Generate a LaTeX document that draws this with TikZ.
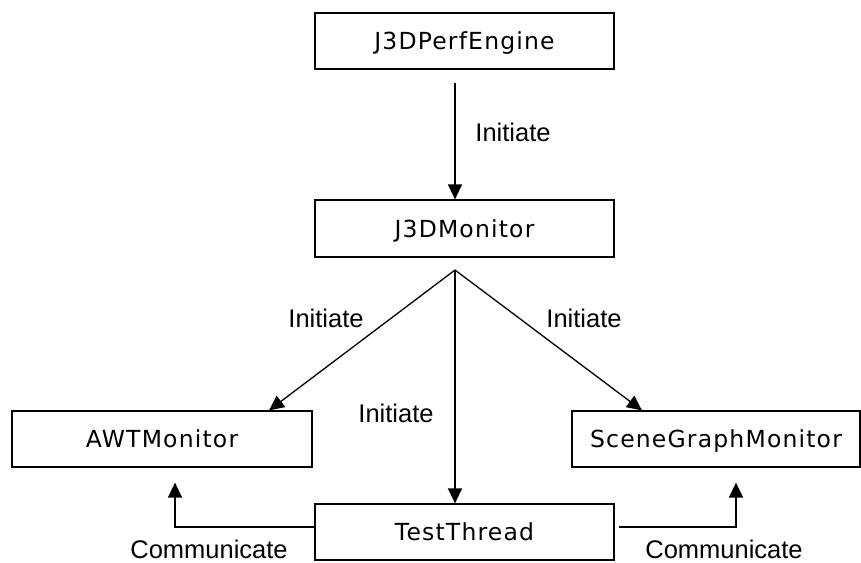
\documentclass[tikz,border=0pt]{standalone}
\usepackage{fontspec}
\setmainfont{Liberation Sans}
\newfontfamily\boxfont{DejaVu Sans}[LetterSpace=5]
\usetikzlibrary{arrows.meta}
\tikzset{
  classbox/.style={draw, line width=1.2pt, inner sep=0pt, minimum height=56pt,
    text height=17pt, text depth=0pt, font=\boxfont\fontsize{23.5}{28}\selectfont},
  lbl/.style={inner sep=0pt, text height=18pt, text depth=0pt,
    font=\fontsize{25.5}{30}\selectfont},
  link/.style={line width=1.3pt, -{Triangle[length=15pt,width=14pt]}}
}
\begin{document}
\begin{tikzpicture}[x=1pt,y=-1pt]
\useasboundingbox (0,0) rectangle (861,562);

% classes
\node[classbox, minimum width=299pt] (engine)  at (464.5,41)  {J3DPerfEngine};
\node[classbox, minimum width=299pt, minimum height=57pt] (monitor) at (464.5,228.5) {J3DMonitor};
\node[classbox, minimum width=300pt] (awt)     at (162,439)   {AWTMonitor};
\node[classbox, minimum width=288pt] (scene)   at (716,439)   {SceneGraphMonitor};
\node[classbox, minimum width=299pt] (test)    at (464.5,532) {TestThread};

% engine starts the monitor
\coordinate (start) at (455,83);
\draw[link] (start) -- (start |- monitor.north);
\node[lbl] (l1) at (513,132) {Initiate};

% monitor starts the three workers
\coordinate (fork) at (455,270);
\draw[link] (fork) -- ([xshift=107pt]awt.north);
\draw[link] (fork) -- ([xshift=-74pt]scene.north);
\draw[link] (fork) -- (fork |- test.north);
\node[lbl] (l2) at (326,318) {Initiate};
\node[lbl] (l3) at (584,318) {Initiate};
\node[lbl] (l4) at (396,413) {Initiate};

% test thread talks back to the monitors
\draw[link] ([yshift=5pt]test.west) -| ([xshift=13pt,yshift=-15pt]awt.south);
\draw[link] ([xshift=4pt,yshift=5pt]test.east) -| ([xshift=20pt,yshift=-15pt]scene.south);
\node[lbl] (c1) at (209,549) {Communicate};
\node[lbl] (c2) at (724,549) {Communicate};
\end{tikzpicture}
\end{document}
